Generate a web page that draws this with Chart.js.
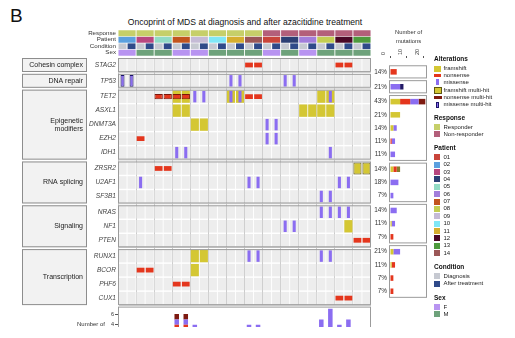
<!DOCTYPE html>
<html>
<head>
<meta charset="utf-8">
<script src="https://cdn.jsdelivr.net/npm/chart.js@4.4.1/dist/chart.umd.min.js"></script>
<style>
  html, body { margin: 0; padding: 0; background: #fff; }
  body { width: 515px; height: 338px; position: relative; overflow: hidden; font-family: 'Liberation Sans', Arial, sans-serif; color: #222; }
  canvas { position: absolute; left: 0; top: 0; }
  #panel { position: absolute; left: 10px; top: 5px; font-size: 19px; line-height: 22px; color: #111; }
  #title { position: absolute; left: 0; width: 490px; top: 17px; text-align: center; font-size: 8.6px; line-height: 11px; color: #111; }
  #bottomClip { position: absolute; left: 0; top: 0; width: 515px; height: 327px; overflow: hidden; }
  #nmLabel { position: absolute; left: 77px; top: 321px; font-size: 6px; line-height: 7px; color: #333; }
  #legend div { position: absolute; white-space: nowrap; }
  .lt { font-size: 6px; line-height: 7px; color: #222; }
  .lh { font-size: 6.5px; line-height: 8px; font-weight: bold; color: #111; }
</style>
</head>
<body>
<div id="panel">B</div>
<div id="title">Oncoprint of MDS at diagnosis and after azacitidine treatment</div>
<canvas id="header" width="515" height="338"></canvas>
<canvas id="grid" width="515" height="338"></canvas>
<canvas id="counts" width="515" height="338"></canvas>
<div id="bottomClip">
  <canvas id="colcounts" width="515" height="360"></canvas>
  <div id="nmLabel">Number of<br>mutations</div>
</div>
<div id="legend"></div>
<script>
// ---- data ----
const patients = ['02', '03', '05', '07', '09', '10', '11', '14', '01', '04', '06', '08', '12', '13'];
const responses = ['Responder', 'Responder', 'Responder', 'Responder', 'Responder', 'Responder', 'Responder', 'Responder',
  'Non-responder', 'Non-responder', 'Non-responder', 'Non-responder', 'Non-responder', 'Non-responder'];
const sexes = ['F', 'M', 'M', 'F', 'F', 'M', 'M', 'M', 'F', 'M', 'F', 'M', 'M', 'M'];
const conditions = ['Diagnosis', 'After treatment'];
const headerRows = ['Response', 'Patient', 'Condition', 'Sex'];

const groups = ['Cohesin complex', 'DNA repair', 'Epigenetic\nmodifiers', 'RNA splicing', 'Signaling', 'Transcription'];
const genes = ['STAG2', 'TP53', 'TET2', 'ASXL1', 'DNMT3A', 'EZH2', 'IDH1', 'ZRSR2', 'U2AF1', 'SF3B1',
  'NRAS', 'NF1', 'PTEN', 'RUNX1', 'BCOR', 'PHF6', 'CUX1'];
const geneGroup = [0, 1, 2, 2, 2, 2, 2, 3, 3, 3, 4, 4, 4, 5, 5, 5, 5];
const pctAltered = [14, 21, 43, 21, 14, 11, 11, 14, 18, 7, 14, 11, 7, 21, 11, 7, 7];

// sample columns (0-27: each patient at diagnosis, then after treatment) hit in each gene
const frameshiftCols = [[], [], [6, 7, 12, 13, 22, 23], [6, 7, 20, 21, 22, 23], [8, 9], [], [], [], [], [], [], [25], [], [8, 9], [8], [], []];
const nonsenseCols = [[14, 15, 24, 25], [], [14, 15], [], [], [2], [], [4, 5], [], [], [], [], [26, 27], [], [2, 3], [6, 7], [24, 25]];
const missenseCols = [[], [12, 13, 18, 19], [8, 9, 12, 13, 23], [], [16, 17], [16, 17], [6, 7, 23], [], [2, 14, 15, 24, 25],
  [22, 23], [22, 23, 24, 25], [18, 19], [], [14, 15, 22, 23], [], [], []];
const frameshiftMultiCols = [[], [], [], [], [], [], [], [26, 27], [], [], [], [], [], [], [], [], []];
const nonsenseMultiCols = [[], [], [4, 5, 6, 7], [], [], [], [], [], [], [], [], [], [], [], [], [], []];
const missenseMultiCols = [[], [0, 1], [], [], [], [], [], [], [], [], [], [], [], [], [], [], []];

// number of mutations per gene (right panel)
const geneFs = [0, 0, 6, 6, 2, 0, 0, 2, 0, 0, 0, 1, 0, 2, 1, 0, 0];
const geneNon = [4, 0, 6, 0, 0, 1, 0, 2, 0, 0, 0, 0, 2, 0, 2, 2, 2];
const geneMis = [0, 6, 5, 0, 2, 2, 3, 0, 5, 2, 4, 2, 0, 4, 0, 0, 0];
const geneFsMulti = [0, 0, 0, 0, 0, 0, 0, 2, 0, 0, 0, 0, 0, 0, 0, 0, 0];
const geneNonMulti = [0, 0, 4, 0, 0, 0, 0, 0, 0, 0, 0, 0, 0, 0, 0, 0, 0];
const geneMisMulti = [0, 2, 0, 0, 0, 0, 0, 0, 0, 0, 0, 0, 0, 0, 0, 0, 0];

// number of mutations per sample (bottom panel)
const colFs = [0, 0, 0, 0, 0, 0, 2, 2, 3, 2, 0, 0, 1, 1, 0, 0, 0, 0, 0, 0, 1, 1, 2, 2, 0, 1, 1, 1];
const colNon = [0, 0, 2, 1, 2, 2, 2, 2, 0, 0, 0, 0, 0, 0, 2, 2, 0, 0, 0, 0, 0, 0, 0, 0, 2, 2, 1, 1];
const colMis = [1, 1, 1, 0, 0, 0, 1, 1, 1, 1, 0, 0, 2, 2, 2, 2, 2, 2, 2, 2, 0, 0, 3, 5, 2, 2, 0, 0];
const colFsMulti = [0, 0, 0, 0, 0, 0, 0, 0, 0, 0, 0, 0, 0, 0, 0, 0, 0, 0, 0, 0, 0, 0, 0, 0, 0, 0, 1, 1];
const colNonMulti = [0, 0, 0, 0, 1, 1, 1, 1, 0, 0, 0, 0, 0, 0, 0, 0, 0, 0, 0, 0, 0, 0, 0, 0, 0, 0, 0, 0];
const colMisMulti = [1, 1, 0, 0, 0, 0, 0, 0, 0, 0, 0, 0, 0, 0, 0, 0, 0, 0, 0, 0, 0, 0, 0, 0, 0, 0, 0, 0];

// ---- colours ----
const col = {
  fs: '#d4c733', fsBorder: '#5e5612', fsMultiBar: '#857d2c',
  non: '#e4361d', nonBorder: '#7c150b', nonMultiBar: '#7e1a10',
  mis: '#8b6df1', misBorder: '#1b1568', misMultiBar: '#221a66',
  cell: '#ededed', box: '#9b9b9b'
};
const responseColor = { 'Responder': '#c6cf69', 'Non-responder': '#b35f7a' };
const patientColor = {
  '01': '#c9443a', '02': '#5ba0df', '03': '#b8477f', '04': '#2c3f74', '05': '#92dbc5', '06': '#a27ddb', '07': '#c2541e',
  '08': '#c3cd52', '09': '#c5bbd6', '10': '#80e7f7', '11': '#d6ae2f', '12': '#4a0826', '13': '#4e9a3d', '14': '#9b5757'
};
const conditionColor = { 'Diagnosis': '#c6c9d1', 'After treatment': '#2f4a89' };
const sexColor = { 'F': '#b894f1', 'M': '#6ea27b' };

const FONT = "'Liberation Sans', Arial, sans-serif";
Chart.defaults.font.family = FONT;
Chart.defaults.color = '#333';

// columns = patient x condition
const colPatient = patients.flatMap(p => conditions.map(() => p));
const colCondition = patients.flatMap(() => conditions);
const colLabels = colPatient.map((p, i) => p + ' ' + colCondition[i]);

// row layout: one unit per gene, small gap between groups
const groupGap = 0.13;
const rowPos = genes.map((g, i) => i + geneGroup[i] * groupGap);
const yMin = -0.5;
const yMax = rowPos[rowPos.length - 1] + 0.5;

function groupRange(gi) {
  const idx = genes.map((g, i) => i).filter(i => geneGroup[i] === gi);
  return [rowPos[idx[0]] - 0.5, rowPos[idx[idx.length - 1]] + 0.5];
}

function cellsFor(colsPerGene, half) {
  const pts = [];
  colsPerGene.forEach((cols, g) => {
    cols.forEach(c => pts.push({ x: colLabels[c], y: [rowPos[g] - half, rowPos[g] + half] }));
  });
  return pts;
}

const noPlugins = { legend: { display: false }, tooltip: { enabled: false }, title: { display: false } };

// ---- header tracks ----
new Chart(document.getElementById('header'), {
  type: 'bar',
  data: {
    datasets: [
      { label: 'Response', xAxisID: 'xp', data: patients.map(p => ({ x: p, y: [0.04, 0.96] })),
        backgroundColor: responses.map(r => responseColor[r]), barPercentage: 0.95 },
      { label: 'Patient', xAxisID: 'xp', data: patients.map(p => ({ x: p, y: [1.04, 1.96] })),
        backgroundColor: patients.map(p => patientColor[p]), barPercentage: 0.95 },
      { label: 'Condition', xAxisID: 'x', data: colLabels.map(l => ({ x: l, y: [2.06, 2.94] })),
        backgroundColor: colCondition.map(c => conditionColor[c]), barPercentage: 0.88 },
      { label: 'Sex', xAxisID: 'xp', data: patients.map(p => ({ x: p, y: [3.04, 3.96] })),
        backgroundColor: sexes.map(s => sexColor[s]), barPercentage: 0.95 }
    ]
  },
  options: {
    responsive: false, animation: false,
    layout: { padding: { left: 78, right: 144, top: 30, bottom: 338 - 56 } },
    plugins: noPlugins,
    datasets: { bar: { grouped: false, categoryPercentage: 1 } },
    scales: {
      x: { type: 'category', labels: colLabels, display: false, offset: true },
      xp: { type: 'category', labels: patients, display: false, offset: true },
      y: {
        type: 'linear', reverse: true, min: 0, max: 4,
        afterBuildTicks: s => { s.ticks = headerRows.map((r, i) => ({ value: i + 0.5 })); },
        afterFit: s => { s.width = 40; },
        grid: { display: false, drawTicks: false }, border: { display: false },
        ticks: { autoSkip: false, padding: 2, font: { size: 6.2 }, color: '#333', callback: (v, i) => headerRows[i] }
      }
    }
  }
});

// ---- oncoprint grid ----
const gridBoxes = {
  id: 'gridBoxes',
  afterDatasetsDraw(chart) {
    const { ctx, chartArea, scales } = chart;
    ctx.save();
    groups.forEach((name, gi) => {
      const [lo, hi] = groupRange(gi);
      const top = scales.y.getPixelForValue(lo);
      const bot = scales.y.getPixelForValue(hi);
      ctx.strokeStyle = col.box;
      ctx.lineWidth = 1;
      ctx.strokeRect(chartArea.left + 0.5, top + 0.5, chartArea.right - chartArea.left - 1, bot - top - 1);
      ctx.strokeStyle = '#bdbdbd';
      ctx.beginPath();
      ctx.moveTo(chartArea.left + 1, bot + 0.2);
      ctx.lineTo(chartArea.right, bot + 0.2);
      ctx.stroke();
      // group label box on the left
      ctx.fillStyle = '#f2f2f2';
      ctx.fillRect(22, top, 65, bot - top);
      ctx.strokeStyle = '#8d8d8d';
      ctx.strokeRect(22.5, top + 0.5, 64, bot - top - 1);
      const lines = name.split('\n');
      ctx.fillStyle = '#222';
      ctx.font = '7px ' + FONT;
      ctx.textAlign = 'right';
      ctx.textBaseline = 'middle';
      const mid = (top + bot) / 2;
      lines.forEach((ln, k) => ctx.fillText(ln, 83, mid + (k - (lines.length - 1) / 2) * 8));
    });
    ctx.restore();
  }
};

const bgCells = [];
genes.forEach((g, i) => colLabels.forEach(l => bgCells.push({ x: l, y: [rowPos[i] - 0.45, rowPos[i] + 0.45] })));

new Chart(document.getElementById('grid'), {
  type: 'bar',
  data: {
    datasets: [
      { label: 'cell', data: bgCells, backgroundColor: col.cell, barPercentage: 0.9, order: 10 },
      { label: 'framshift', data: cellsFor(frameshiftCols, 0.44), backgroundColor: col.fs, barPercentage: 0.9, order: 9 },
      { label: 'framshift multi-hit', data: cellsFor(frameshiftMultiCols, 0.43), backgroundColor: col.fs,
        borderColor: col.fsBorder, borderWidth: 1, borderSkipped: false, barPercentage: 0.9, order: 8 },
      { label: 'nonsense', data: cellsFor(nonsenseCols, 0.17), backgroundColor: col.non, barPercentage: 0.86, order: 7 },
      { label: 'nonsense multi-hit', data: cellsFor(nonsenseMultiCols, 0.19), backgroundColor: col.non,
        borderColor: col.nonBorder, borderWidth: 1, borderSkipped: false, barPercentage: 0.92, order: 6 },
      { label: 'missense', data: cellsFor(missenseCols, 0.41), backgroundColor: col.mis, barPercentage: 0.34, order: 5 },
      { label: 'missense multi-hit', data: cellsFor(missenseMultiCols, 0.42), backgroundColor: col.mis,
        borderColor: col.misBorder, borderWidth: 1, borderSkipped: false, barPercentage: 0.44, order: 4 }
    ]
  },
  options: {
    responsive: false, animation: false,
    layout: { padding: { left: 78, right: 144, top: 58, bottom: 338 - 305.1 } },
    plugins: noPlugins,
    datasets: { bar: { grouped: false, categoryPercentage: 1 } },
    scales: {
      x: {
        type: 'category', labels: colLabels, offset: true,
        grid: { offset: true, drawTicks: false, lineWidth: 1, color: c => ((c.index ?? 1) % 2 === 0 ? '#cbcbcb' : '#ffffff') },
        border: { display: false }, ticks: { display: false },
        afterFit: s => { s.height = 0; }
      },
      y: {
        type: 'linear', reverse: true, min: yMin, max: yMax,
        afterBuildTicks: s => { s.ticks = rowPos.map(v => ({ value: v })); },
        afterFit: s => { s.width = 40; },
        grid: { display: false, drawTicks: false }, border: { display: false },
        ticks: { autoSkip: false, padding: 2, font: { size: 6.6, style: 'italic' }, color: '#444', callback: (v, i) => genes[i] }
      }
    }
  },
  plugins: [gridBoxes]
});

// ---- mutations per gene (right) ----
const countBoxes = {
  id: 'countBoxes',
  beforeDatasetsDraw(chart) {
    const { ctx, chartArea, scales } = chart;
    ctx.save();
    groups.forEach((name, gi) => {
      const [lo, hi] = groupRange(gi);
      const top = scales.y.getPixelForValue(lo);
      const bot = scales.y.getPixelForValue(hi);
      ctx.fillStyle = '#fff';
      ctx.fillRect(chartArea.left - 1, top, chartArea.right - chartArea.left + 1, bot - top);
      ctx.strokeStyle = col.box;
      ctx.lineWidth = 1;
      ctx.strokeRect(chartArea.left - 0.5, top + 0.5, chartArea.right - chartArea.left, bot - top - 1);
    });
    ctx.restore();
  }
};

const geneSeries = [
  ['framshift', geneFs, col.fs], ['nonsense', geneNon, col.non], ['missense', geneMis, col.mis],
  ['framshift multi-hit', geneFsMulti, col.fsMultiBar], ['nonsense multi-hit', geneNonMulti, col.nonMultiBar],
  ['missense multi-hit', geneMisMulti, col.misMultiBar]
];

new Chart(document.getElementById('counts'), {
  type: 'bar',
  data: {
    datasets: geneSeries.map(([label, vals, color]) => ({
      label, backgroundColor: color, data: vals.map((v, i) => ({ x: v, y: rowPos[i] }))
    }))
  },
  options: {
    indexAxis: 'y', responsive: false, animation: false,
    layout: { padding: { left: 371, right: 88, top: 28, bottom: 338 - 305.1 } },
    plugins: noPlugins,
    datasets: { bar: { categoryPercentage: 1, barPercentage: 0.42 } },
    scales: {
      x: {
        type: 'linear', position: 'top', stacked: true, min: 0, max: 22,
        afterBuildTicks: s => { s.ticks = [0, 10, 20].map(v => ({ value: v })); },
        afterFit: s => { s.height = 30; },
        ticks: { minRotation: 90, maxRotation: 90, font: { size: 5.5 }, padding: 1, color: '#333' },
        grid: { drawOnChartArea: false, drawTicks: true, tickLength: 2, color: '#555' },
        border: { display: false },
        title: { display: true, text: ['Number of', 'mutations'], font: { size: 5.8, lineHeight: 1.5 }, padding: { top: 0, bottom: 1 }, color: '#333' }
      },
      y: {
        type: 'linear', reverse: true, stacked: true, min: yMin, max: yMax,
        afterBuildTicks: s => { s.ticks = rowPos.map(v => ({ value: v })); },
        afterFit: s => { s.width = 19; },
        grid: { display: false, drawTicks: false }, border: { display: false },
        ticks: { autoSkip: false, padding: 3, font: { size: 6.4 }, color: '#333', callback: (v, i) => pctAltered[i] + '%' }
      }
    }
  },
  plugins: [countBoxes]
});

// ---- mutations per sample (bottom) ----
const panelBox = {
  id: 'panelBox',
  afterDatasetsDraw(chart) {
    const { ctx, chartArea } = chart;
    ctx.save();
    ctx.strokeStyle = col.box;
    ctx.lineWidth = 1;
    ctx.strokeRect(chartArea.left + 0.5, chartArea.top + 0.5, chartArea.right - chartArea.left - 1, chartArea.bottom - chartArea.top);
    ctx.restore();
  }
};

const sampleSeries = [
  ['framshift', colFs, col.fs], ['nonsense', colNon, col.non], ['missense', colMis, col.mis],
  ['framshift multi-hit', colFsMulti, col.fsMultiBar], ['nonsense multi-hit', colNonMulti, col.nonMultiBar],
  ['missense multi-hit', colMisMulti, col.misMultiBar]
];

new Chart(document.getElementById('colcounts'), {
  type: 'bar',
  data: {
    labels: colLabels,
    datasets: sampleSeries.map(([label, vals, color]) => ({ label, data: vals, backgroundColor: color }))
  },
  options: {
    responsive: false, animation: false,
    layout: { padding: { left: 106, right: 144, top: 306.6, bottom: 14 } },
    plugins: noPlugins,
    datasets: { bar: { categoryPercentage: 1, barPercentage: 0.5 } },
    scales: {
      x: { stacked: true, display: false },
      y: {
        stacked: true, min: 0, max: 7.4,
        afterBuildTicks: s => { s.ticks = [0, 2, 4, 6].map(v => ({ value: v })); },
        afterFit: s => { s.width = 12; },
        ticks: { font: { size: 5.5 }, padding: 1, color: '#333' },
        grid: { drawOnChartArea: false, tickLength: 3, color: '#555' },
        border: { display: false }
      }
    }
  },
  plugins: [panelBox]
});

// ---- legend ----
const legend = document.getElementById('legend');
function lgText(txt, x, yc, head) {
  const d = document.createElement('div');
  d.className = head ? 'lh' : 'lt';
  d.textContent = txt;
  d.style.left = x + 'px';
  d.style.top = (yc - (head ? 4 : 3.5)) + 'px';
  legend.appendChild(d);
}
function lgSwatch(x, y, w, h, color, border) {
  const d = document.createElement('div');
  d.style.left = x + 'px';
  d.style.top = y + 'px';
  d.style.width = w + 'px';
  d.style.height = h + 'px';
  d.style.background = color;
  d.style.boxSizing = 'border-box';
  if (border) d.style.border = '1px solid ' + border;
  legend.appendChild(d);
}
const LX = 434, TX = 443.5;
lgText('Alterations', LX, 59, true);
lgSwatch(LX, 65.5, 6.5, 6, col.fs); lgText('framshift', TX, 68.5);
lgSwatch(LX, 74, 7, 2.5, col.non); lgText('nonsense', TX, 75.5);
lgSwatch(LX + 2, 79, 2.5, 6, col.mis); lgText('missense', TX, 82);
lgSwatch(LX - 0.5, 87, 8, 6.5, col.fs, col.fsBorder); lgText('framshift multi-hit', TX, 90.5);
lgSwatch(LX, 96, 8, 3, col.nonMultiBar); lgText('nonsense multi-hit', TX, 97.7);
lgSwatch(LX + 1.5, 101.5, 3.5, 6, col.mis, col.misBorder); lgText('missense multi-hit', TX, 104.8);

lgText('Response', LX, 118, true);
['Responder', 'Non-responder'].forEach((r, k) => {
  lgSwatch(LX, 124.3 + k * 7.1, 6, 6, responseColor[r]); lgText(r, TX, 127.3 + k * 7.1);
});

lgText('Patient', LX, 148, true);
Object.keys(patientColor).sort().forEach((p, k) => {
  lgSwatch(LX, 154.3 + k * 7.38, 6, 6, patientColor[p]); lgText(p, TX, 157.3 + k * 7.38);
});

lgText('Condition', LX, 267, true);
conditions.forEach((c, k) => {
  lgSwatch(LX, 273.3 + k * 7.4, 6, 6, conditionColor[c]); lgText(c, TX, 276.3 + k * 7.4);
});

lgText('Sex', LX, 298, true);
['F', 'M'].forEach((s, k) => {
  lgSwatch(LX, 304 + k * 7.2, 6, 6, sexColor[s]); lgText(s, TX, 307 + k * 7.2);
});
</script>
</body>
</html>
